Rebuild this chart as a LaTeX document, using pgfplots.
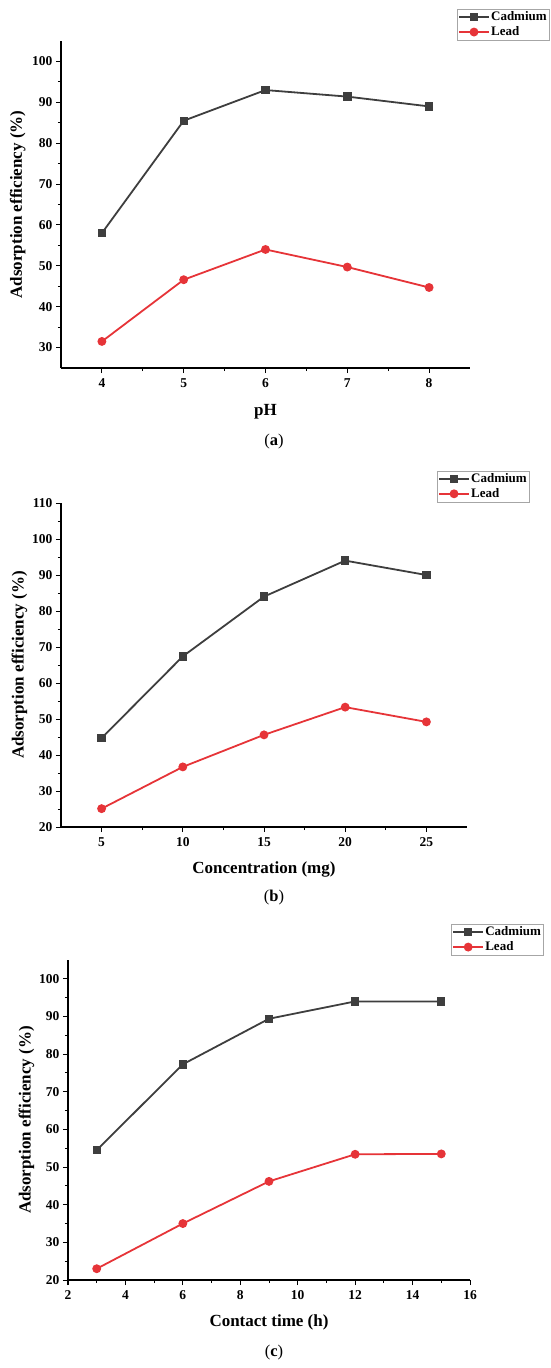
\documentclass[border=0pt]{standalone}
\usepackage{fontspec}
\setmainfont{Liberation Serif}
\usepackage{pgfplots}
\pgfplotsset{compat=1.18}
\definecolor{cdc}{RGB}{62,62,62}
\definecolor{pbc}{RGB}{230,52,56}
\newcommand\tickf{\bfseries\fontsize{13.5}{13.5}\selectfont}
\newcommand\labf{\bfseries\fontsize{17}{17}\selectfont}
\newcommand\legf{\bfseries\fontsize{13}{13}\selectfont}
\pgfplotsset{
  panel/.style={
    scale only axis,
    axis lines=left,
    axis line style={-, line width=1.1pt, black},
    tick align=outside,
    major tick length=5pt,
    minor tick length=3pt,
    tick style={black, line width=1pt},
    minor x tick num=1,
    minor y tick num=1,
    /pgf/number format/assume math mode=true,
    ticklabel style={font=\tickf},
    xticklabel style={yshift=-2pt},
    label style={font=\labf},
    ylabel={Adsorption efficiency (\%)},
    legend cell align=left,
    legend style={draw=black!35, fill=white, font=\legf, anchor=north west,
      inner xsep=1pt, inner ysep=1.5pt, row sep=2pt,
      nodes={inner sep=1.2pt}},
    legend image code/.code={\draw[mark repeat=2,mark phase=2] plot coordinates {(0pt,0pt)(15pt,0pt)(30pt,0pt)};},
    clip=false,
  },
  cd/.style={color=cdc, line width=1.8pt, mark=square*, mark size=3.3pt, mark options={solid}},
  pb/.style={color=pbc, line width=1.8pt, mark=*, mark size=3.5pt, mark options={solid}},
}
\begin{document}
\begin{tikzpicture}
\path[use as bounding box] (0,0) rectangle (550pt,-1368pt);

% (a)
\begin{axis}[panel,
  at={(61pt,-368pt)}, anchor=south west,
  width=409pt, height=327pt,
  xmin=3.5, xmax=8.5, ymin=25, ymax=105,
  xtick={4,5,6,7,8}, ytick={30,40,50,60,70,80,90,100},
  xlabel={pH},
  xlabel style={at={(axis description cs:0.5,-0.1346)}, anchor=center},
  ylabel style={at={(axis description cs:-0.106,0.5)}, anchor=center, rotate=0},
  legend style={at={(axis description cs:0.968,1.098)}},
]
\addplot[cd] coordinates {(4,58.0) (5,85.5) (6,93.0) (7,91.4) (8,89.0)};
\addlegendentry{Cadmium}
\addplot[pb] coordinates {(4,31.5) (5,46.6) (6,54.0) (7,49.7) (8,44.7)};
\addlegendentry{Lead}
\end{axis}
\node[font=\fontsize{16.5}{16.5}\selectfont] at (274pt,-441.5pt) {(\textbf{a})};

% (b)
\begin{axis}[panel,
  at={(61pt,-827pt)}, anchor=south west,
  width=406pt, height=324pt,
  xmin=2.5, xmax=27.5, ymin=20, ymax=110,
  xtick={5,10,15,20,25}, ytick={20,30,40,50,60,70,80,90,100,110},
  xlabel={Concentration (mg)},
  xlabel style={at={(axis description cs:0.5,-0.1296)}, anchor=center},
  ylabel style={at={(axis description cs:-0.1025,0.5)}, anchor=center, rotate=0},
  legend style={at={(axis description cs:0.926,1.0997)}},
]
\addplot[cd] coordinates {(5,44.7) (10,67.4) (15,84.0) (20,94.0) (25,90.0)};
\addlegendentry{Cadmium}
\addplot[pb] coordinates {(5,25.1) (10,36.7) (15,45.6) (20,53.3) (25,49.2)};
\addlegendentry{Lead}
\end{axis}
\node[font=\fontsize{16.5}{16.5}\selectfont] at (274pt,-898pt) {(\textbf{b})};

% (c)
\begin{axis}[panel,
  at={(68pt,-1280pt)}, anchor=south west,
  width=402pt, height=320pt,
  xmin=2, xmax=16, ymin=20, ymax=105,
  xtick={2,4,6,8,10,12,14,16}, ytick={20,30,40,50,60,70,80,90,100},
  xlabel={Contact time (h)},
  xlabel style={at={(axis description cs:0.5,-0.134)}, anchor=center},
  ylabel style={at={(axis description cs:-0.103,0.5)}, anchor=center, rotate=0},
  legend style={at={(axis description cs:0.953,1.1125)}},
]
\addplot[cd] coordinates {(3,54.5) (6,77.3) (9,89.4) (12,94.0) (15,94.0)};
\addlegendentry{Cadmium}
\addplot[pb] coordinates {(3,23.0) (6,35.0) (9,46.2) (12,53.4) (15,53.5)};
\addlegendentry{Lead}
\end{axis}
\node[font=\fontsize{16.5}{16.5}\selectfont] at (274pt,-1353pt) {(\textbf{c})};
\end{tikzpicture}
\end{document}
